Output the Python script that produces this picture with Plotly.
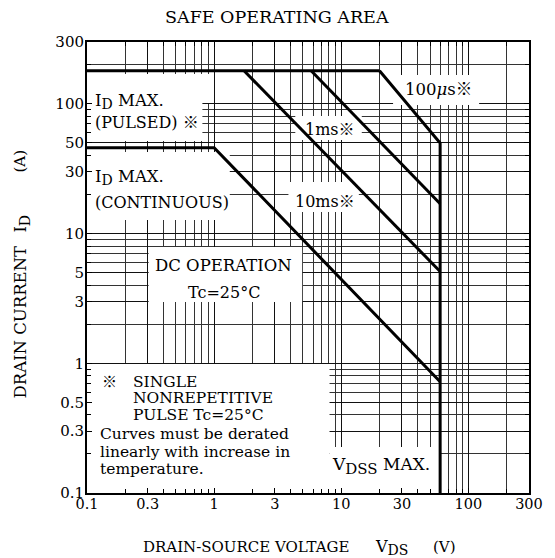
import math
import plotly.graph_objects as go

# ---- data ----
x_tick_vals = [0.1, 0.3, 1, 3, 10, 30, 100, 300]
x_tick_text = ["0.1", "0.3", "1", "3", "10", "30", "100", "300"]
y_tick_vals = [0.1, 0.3, 0.5, 1, 3, 5, 10, 30, 50, 100, 300]
y_tick_text = ["0.1", "0.3", "0.5", "1", "3", "5", "10", "30", "50", "100", "300"]

# limit curves  (V_DS [V], I_D [A])
pulsed_v = [0.1, 20]
pulsed_i = [180, 180]
us100_v = [20, 60, 60]
us100_i = [180, 50, 0.1]
ms1_v = [5.8, 60]
ms1_i = [180, 17]
ms10_v = [1.72, 60]
ms10_i = [180, 5.1]
dc_v = [0.1, 1.0, 60]
dc_i = [46, 46, 0.72]

FONT = "DejaVu Serif, Noto Sans CJK JP, serif"

W, H = 555, 558
# plot-area frame in page pixels (as seen in the reference)
X0, X1, Y0, Y1 = 87, 539, 42, 493
LMIN, LMAX = -1.0, math.log10(300)
EPS = 1e-4


def px(x):
    return (x - X0) / (X1 - X0)


def py(y):
    return (Y1 - y) / (Y1 - Y0)


def dx(x):
    return 10 ** (LMIN + px(x) * (LMAX - LMIN))


def dy(y):
    return 10 ** (LMIN + py(y) * (LMAX - LMIN))


grid_vals = []
for d in range(-1, 3):
    for m in range(1, 10):
        v = m * 10 ** d
        if v <= 300.0001:
            grid_vals.append(v)

fig = go.Figure()

for xs, ys in [(pulsed_v, pulsed_i), (us100_v, us100_i), (ms1_v, ms1_i),
               (ms10_v, ms10_i), (dc_v, dc_i)]:
    fig.add_trace(go.Scatter(x=xs, y=ys, mode="lines",
                             line=dict(color="black", width=3),
                             showlegend=False, hoverinfo="skip"))

# white label boxes (cover the grid, under the curves) in page pixels
boxes = [
    (88, 74, 215, 103),    # ID MAX pulsed (upper)
    (88, 103, 205, 141),   # ID MAX pulsed (lower)
    (88, 152, 233, 220),   # ID MAX continuous
    (300, 116, 368, 140),  # 1ms
    (293, 182, 365, 212),  # 10ms
    (400, 75, 488, 105),   # 100us
    (150, 247, 307, 302),  # DC operation
    (88, 364, 335, 492),   # note
    (335, 447, 447, 492),  # VDSS max
]
for (a, b, c, d) in boxes:
    fig.add_shape(type="rect", xref="x", yref="y",
                  x0=dx(a), x1=dx(c), y0=dy(d), y1=dy(b),
                  fillcolor="white", line=dict(width=0), layer="between")


def label(text, x, y, size=16, anchor="left", angle=0):
    fig.add_annotation(text=text, xref="paper", yref="paper",
                       x=px(x), y=py(y), xanchor=anchor, yanchor="middle",
                       showarrow=False, textangle=angle,
                       font=dict(family=FONT, size=size, color="black"))


def sub(s, size):
    return "<sub><span style='font-size:%dpx'>%s</span></sub>" % (size, s)


label("SAFE OPERATING AREA", 281, 17, size=17.5, anchor="center")

label("I" + sub("D", 14) + " MAX.", 93, 101, size=16.5)
label("(PULSED) ※", 93, 123)
label("I" + sub("D", 14) + " MAX.", 93, 178, size=16.5)
label("(CONTINUOUS)", 93, 203)
label("1ms※", 308, 129)
label("10ms※", 298, 201)
label("100<i>μ</i>s※", 410, 89, size=16.5)
label("DC OPERATION", 227, 265, size=16.5, anchor="center")
label("Tc=25°C", 227, 292, anchor="center")
label("※", 100, 382, size=15)
label("SINGLE", 132, 382, size=15.5)
label("NONREPETITIVE", 132, 398, size=15.5)
label("PULSE Tc=25°C", 132, 415, size=15.5)
label("Curves must be derated", 98, 434, size=15.5)
label("linearly with increase in", 98, 452, size=15.5)
label("temperature.", 98, 469, size=15.5)
label("V" + sub("DSS", 15) + " MAX.", 336, 466, size=17)

# axis titles
label("DRAIN-SOURCE VOLTAGE", 250, 547, size=15, anchor="center")
label("V" + sub("DS", 14), 398, 547, size=16, anchor="center")
label("(V)", 453, 547, size=15, anchor="center")
label("DRAIN CURRENT", 18, 322, size=16.5, anchor="center", angle=-90)
label("I" + sub("D", 14), 20, 223, size=16, anchor="center", angle=-90)
label("(A)", 18, 161, size=15, anchor="center", angle=-90)

axis_common = dict(
    type="log",
    showline=True, linewidth=2, linecolor="black", mirror="allticks",
    ticks="inside", ticklen=5, tickwidth=1, tickcolor="black",
    showgrid=True, gridcolor="#111", gridwidth=1,
    zeroline=False,
    minor=dict(tickvals=grid_vals, showgrid=True, gridcolor="#333", gridwidth=1,
               ticks="inside", ticklen=4, tickcolor="black"),
)

fig.update_layout(
    width=W, height=H, autosize=False,
    margin=dict(l=X0, r=W - X1, t=Y0, b=H - Y1),
    paper_bgcolor="white", plot_bgcolor="white",
    xaxis=dict(range=[LMIN - EPS, LMAX + EPS], tickvals=x_tick_vals, ticktext=x_tick_text,
               ticklabelstandoff=-3, tickfont=dict(family=FONT, size=14.5, color="black"),
               **axis_common),
    yaxis=dict(range=[LMIN - EPS, LMAX + EPS], tickvals=y_tick_vals, ticktext=y_tick_text,
               ticklabelstandoff=-2, tickfont=dict(family=FONT, size=15, color="black"),
               **axis_common),
)

page_fix = ("document.documentElement.style.margin='0';"
            "document.body.style.margin='0';"
            "document.documentElement.style.overflow='hidden';"
            "document.body.style.overflow='hidden';")

fig.write_html("out.html", post_script=page_fix, config={"displayModeBar": False})
